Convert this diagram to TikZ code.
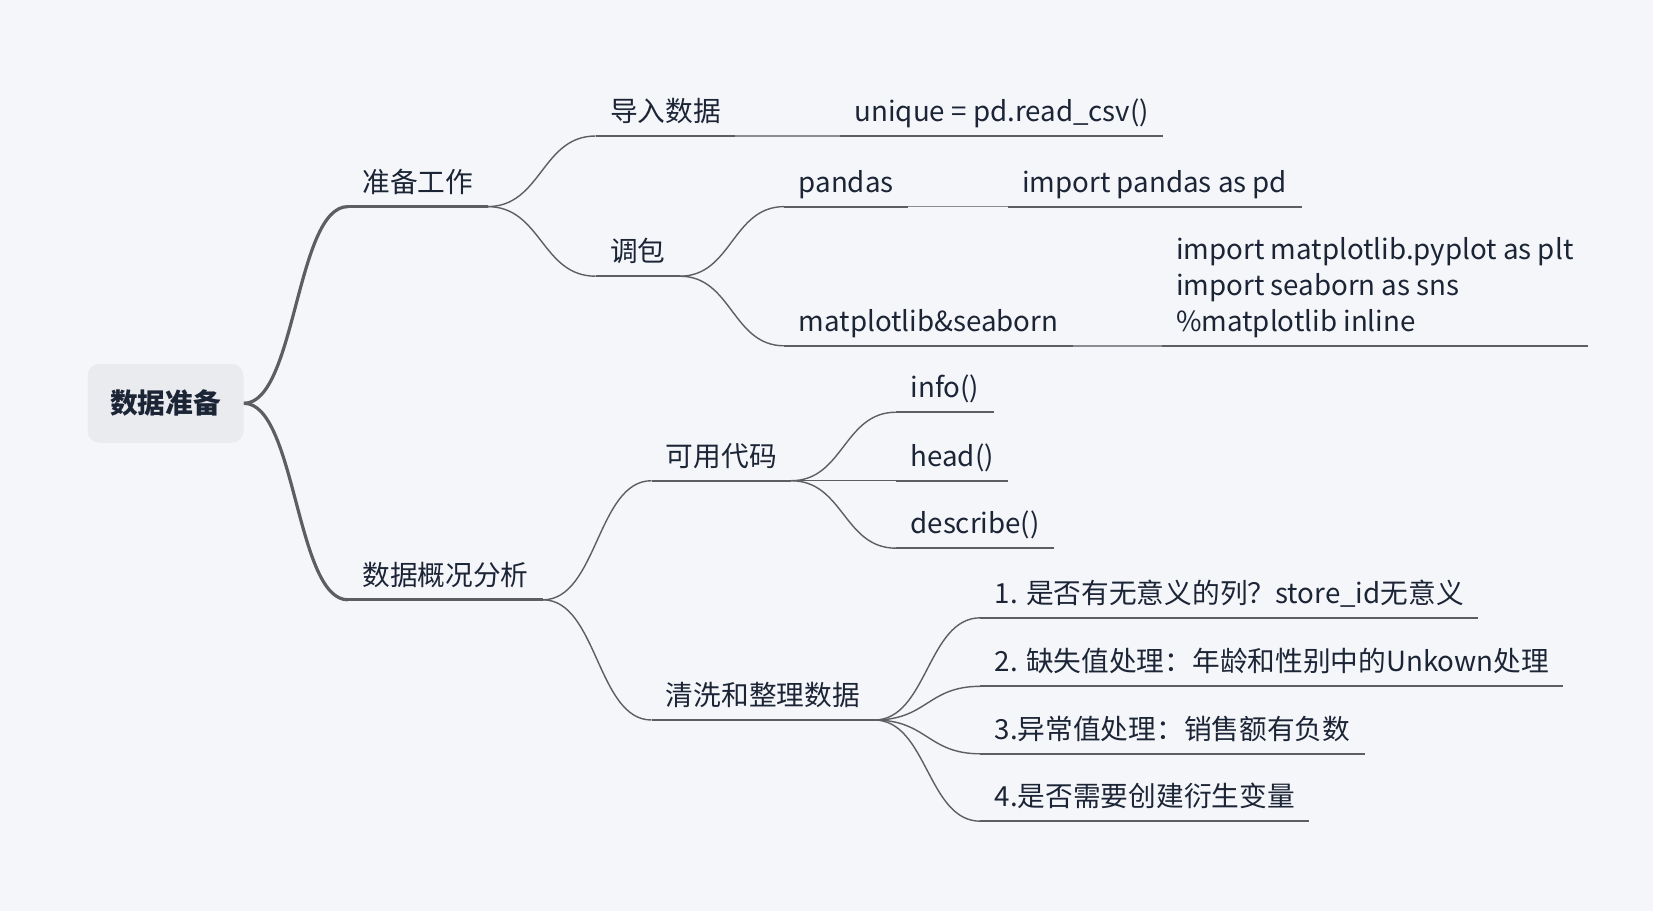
\documentclass[tikz,border=0pt]{standalone}
\usepackage{fontspec}
\setmainfont{Noto Sans CJK SC}
\usetikzlibrary{calc}
\definecolor{mapbg}{RGB}{245,246,250}
\definecolor{rootfill}{RGB}{234,235,239}
\definecolor{inkblue}{RGB}{28,37,54}
\definecolor{linegray}{RGB}{94,94,96}
\definecolor{linklight}{RGB}{140,140,146}

\begin{document}
\begin{tikzpicture}[x=0.5pt, y=-0.5pt,
  topic/.style={anchor=south west, inner xsep=7pt, inner ysep=7pt, text depth=0pt, text=inkblue, font=\fontsize{13.85}{17.9}\selectfont},
  rootbox/.style={fill=rootfill, rounded corners=6pt, minimum width=78pt, minimum height=39.5pt, text=inkblue, font=\fontsize{13.85}{17.9}\selectfont\bfseries},
  thickline/.style={linegray, line width=1.6pt},
  uline/.style={linegray, line width=1.1pt},
  twig/.style={linegray, line width=0.7pt},
  link/.style={linklight, line width=0.7pt},
  branch/.style={to path={let \p1=(\tikztostart), \p2=(\tikztotarget) in .. controls ({(\x1+\x2)/2},\y1) and ({(\x1+\x2)/2},\y2) .. (\tikztotarget)}}
]
  \fill[mapbg] (0,0) rectangle (1653,911);
  \useasboundingbox (0,0) rectangle (1653,911);

  % Root
  \node[rootbox] (root) at (165.5,403.3) {数据准备};

  % First level
  \node[topic] (prep) at (347.9,206.6) {准备工作};
  \node[topic] (overview) at (347.9,599.8) {数据概况分析};
  \draw[thickline] (root.east) to[branch] (prep.south west);
  \draw[thickline] (root.east) to[branch] (overview.south west);
  \draw[thickline] (prep.south west) -- (prep.south east);
  \draw[thickline] (overview.south west) -- (overview.south east);

  % Preparation
  \node[topic] (load) at (595.6,136) {导入数据};
  \node[topic] (loadcode) at (840.2,136) {unique = pd.read\_csv()};
  \node[topic] (pkg) at (595.6,276.2) {调包};
  \node[topic] (pandas) at (784.3,206.6) {pandas};
  \node[topic] (pandascode) at (1007.8,206.6) {import pandas as pd};
  \node[topic] (mpl) at (784.3,345.8) {matplotlib\&seaborn};
  \node[topic] (mplcode) at (1161.7,345.8) {\begin{tabular}[b]{@{}l@{}}import matplotlib.pyplot as plt\\import seaborn as sns\\\%matplotlib inline\end{tabular}};
  \draw[twig] (prep.south east) to[branch] (load.south west);
  \draw[twig] (prep.south east) to[branch] (pkg.south west);
  \draw[twig] (pkg.south east) to[branch] (pandas.south west);
  \draw[twig] (pkg.south east) to[branch] (mpl.south west);
  \draw[link] (load.south east) -- (loadcode.south west);
  \draw[link] (pandas.south east) -- (pandascode.south west);
  \draw[link] (mpl.south east) -- (mplcode.south west);

  % Overview
  \node[topic] (code) at (651.5,480.7) {可用代码};
  \node[topic] (info) at (896.1,412.2) {info()};
  \node[topic] (head) at (896.1,480.7) {head()};
  \node[topic] (desc) at (896.1,548.2) {describe()};
  \node[topic] (clean) at (651.5,720) {清洗和整理数据};
  \node[topic] (stepone) at (980.4,617.8) {1. 是否有无意义的列？store\_id无意义};
  \node[topic] (steptwo) at (980.4,686.3) {2. 缺失值处理：年龄和性别中的Unkown处理};
  \node[topic] (stepthree) at (980.4,753.8) {3.异常值处理：销售额有负数};
  \node[topic] (stepfour) at (980.4,821.2) {4.是否需要创建衍生变量};
  \draw[twig] (overview.south east) to[branch] (code.south west);
  \draw[twig] (overview.south east) to[branch] (clean.south west);
  \foreach \leaf in {info,head,desc}
    \draw[twig] (code.south east) to[branch] (\leaf.south west);
  \foreach \leaf in {stepone,steptwo,stepthree,stepfour}
    \draw[twig] (clean.south east) to[branch] (\leaf.south west);

  % Underlines
  \foreach \n in {load,loadcode,pkg,pandas,pandascode,mpl,mplcode,code,info,head,desc,clean,stepone,steptwo,stepthree,stepfour}
    \draw[uline] (\n.south west) -- (\n.south east);
\end{tikzpicture}
\end{document}
